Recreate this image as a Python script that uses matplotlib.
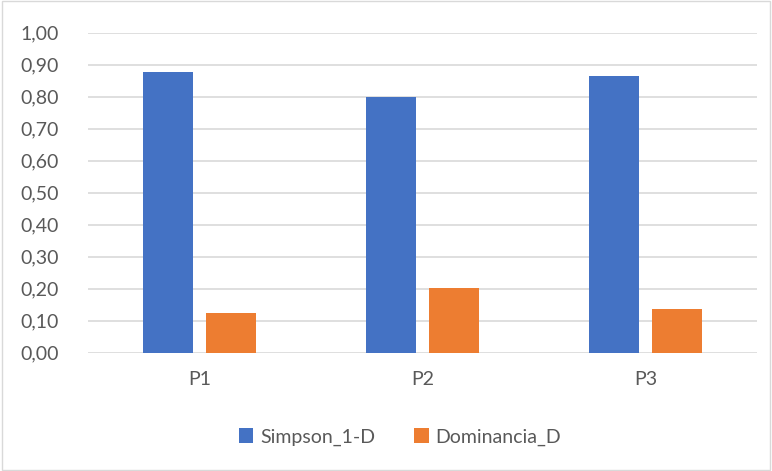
import numpy as np
import matplotlib.pyplot as plt
from matplotlib.ticker import FuncFormatter

# data
plots = ['P1', 'P2', 'P3']
simpson = [0.876, 0.798, 0.865]
dominancia = [0.124, 0.203, 0.136]

plt.rcParams['font.family'] = ['Lato', 'DejaVu Sans']
text_col = '#595959'

fig = plt.figure(figsize=(7.72, 4.71), dpi=100)
ax = fig.add_axes([88 / 772, 1 - 352.7 / 471, (757 - 88) / 772, 320 / 471])

x = np.arange(len(plots))
w = 0.224
off = 0.143
ax.bar(x - off, simpson, w, color='#4472C4', label='Simpson_1-D', zorder=3)
ax.bar(x + off, dominancia, w, color='#ED7D31', label='Dominancia_D', zorder=3)

ax.set_xlim(-0.5, 2.5)
ax.set_ylim(0, 1.0)
ax.set_yticks(np.arange(0, 1.01, 0.1))
ax.yaxis.set_major_formatter(FuncFormatter(lambda v, p: f'{v:.2f}'.replace('.', ',')))
ax.set_xticks(x)
ax.set_xticklabels(plots)
ax.grid(axis='y', color='#d9d9d9', linewidth=1.2, zorder=0)
for s in ax.spines.values():
    s.set_visible(False)
ax.tick_params(axis='both', length=0, colors=text_col, labelsize=14)
ax.tick_params(axis='y', pad=21)
ax.tick_params(axis='x', pad=13)

fig.legend(loc='center', bbox_to_anchor=(400 / 772, 1 - 437 / 471), ncol=2,
           frameon=False, fontsize=14, labelcolor=text_col,
           handlelength=0.75, handleheight=0.75, handletextpad=0.35, columnspacing=2.0)

# thin frame round the whole chart
fig.patches.append(plt.Rectangle((0.002, 0.002), 0.996, 0.996, transform=fig.transFigure,
                                 fill=False, edgecolor='#d9d9d9', linewidth=1))

fig.savefig('out.png', dpi=100)
